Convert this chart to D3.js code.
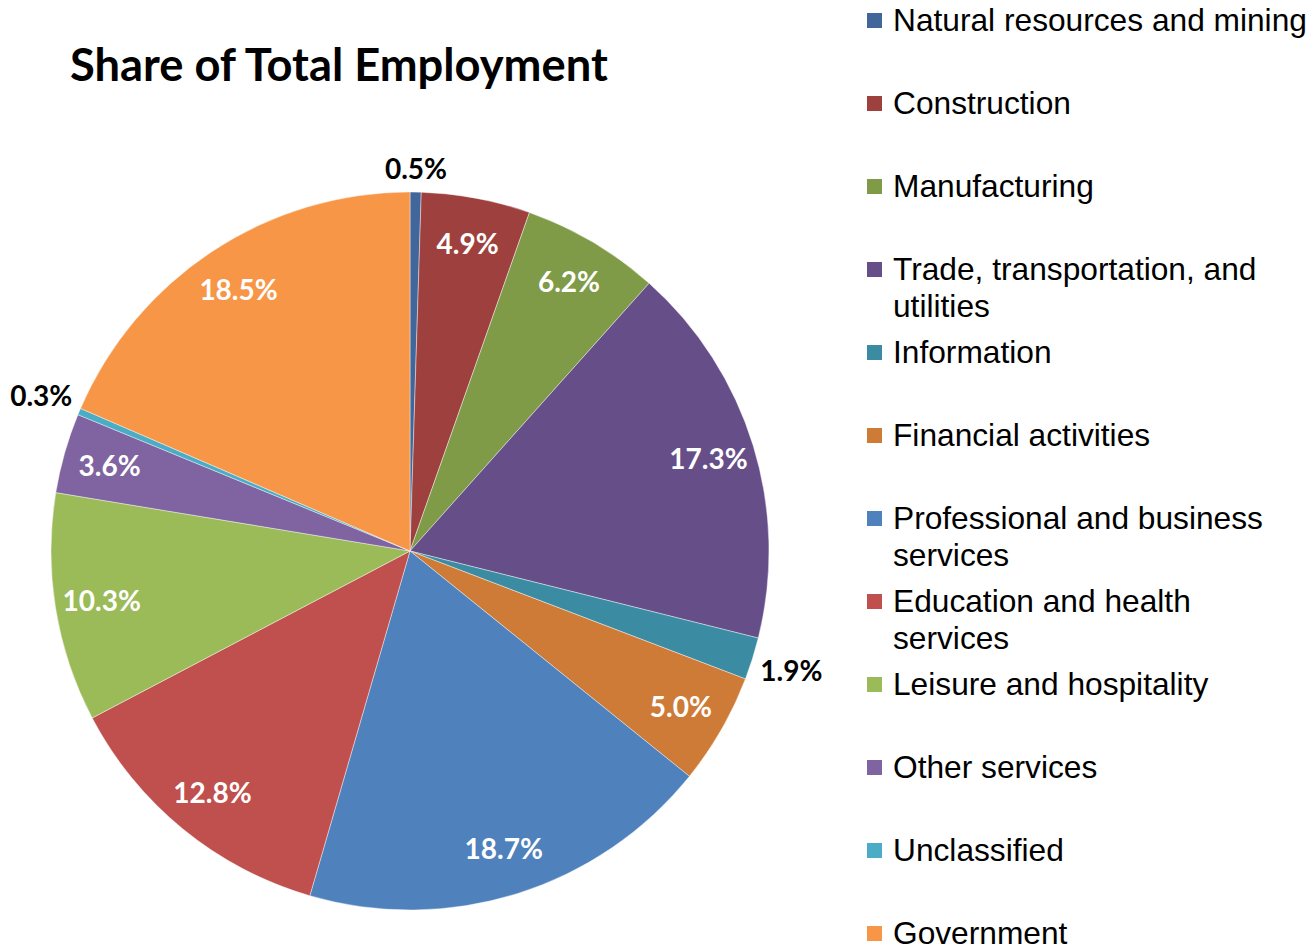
<!DOCTYPE html>
<html><head><meta charset="utf-8">
<script src="https://cdn.jsdelivr.net/npm/d3@7/dist/d3.min.js"></script>
<style>body{margin:0;background:#fff;overflow:hidden}</style>
</head><body>
<svg id="chart" width="1314" height="945"></svg>
<script>
const categories = ["Natural resources and mining","Construction","Manufacturing","Trade, transportation, and utilities","Information","Financial activities","Professional and business services","Education and health services","Leisure and hospitality","Other services","Unclassified","Government"];
const shares = [0.5,4.9,6.2,17.3,1.9,5.0,18.7,12.8,10.3,3.6,0.3,18.5];
const colors = ["#41679A","#9E403E","#7F9B48","#664E88","#3B8CA3","#CF7B38","#4F81BD","#C0504D","#9BBB59","#8064A2","#4BACC6","#F79646"];
const title = "Share of Total Employment";

const svg = d3.select("#chart");
const cx = 410, cy = 551, R = 359;

// Title
const t = svg.append("text").attr("x",70).attr("y",81)
  .style("font-family","Lato, 'Open Sans', sans-serif").style("font-weight","bold")
  .style("font-size","44px").attr("fill","#000").text(title);
const tw = t.node().getComputedTextLength();
t.style("font-size",(44*538/tw)+"px");

const pie = d3.pie().sort(null).value(d=>d)(shares);
const arc = d3.arc().innerRadius(0).outerRadius(R);
const g = svg.append("g").attr("transform",`translate(${cx},${cy})`);
g.selectAll("path").data(pie).join("path")
  .attr("d",arc).attr("fill",(d,i)=>colors[i])
  .attr("stroke","#fff").attr("stroke-width",0.6).attr("stroke-opacity",0.7);

// Labels
const fmt = d3.format(".1f");
pie.forEach((d,i)=>{
  const a = (d.startAngle+d.endAngle)/2;
  const inside = d.value >= 2;
  const lbl = g.append("text")
    .style("font-family","Lato, 'Open Sans', sans-serif").style("font-weight","bold")
    .style("font-size","28px").attr("text-anchor","middle").attr("dy","0.36em")
    .attr("fill", inside ? "#fff" : "#000").text(fmt(d.value)+"%");
  let r;
  if (inside) r = R*0.87;
  else {
    const bb = lbl.node().getBBox();
    r = R + Math.abs(Math.sin(a))*bb.width/2 + Math.abs(Math.cos(a))*bb.height/2 + 6;
  }
  lbl.attr("x", Math.sin(a)*r).attr("y", -Math.cos(a)*r);
});

// Legend
const lx = 867, ly = 20, step = 83, lineH = 37, maxW = 418;
const leg = svg.append("g");
categories.forEach((c,i)=>{
  const y = ly + i*step;
  leg.append("rect").attr("x",lx).attr("y",y-7).attr("width",15).attr("height",15).attr("fill",colors[i]);
  const txt = leg.append("text").attr("x",lx+26).attr("y",y+11)
    .style("font-family","'Liberation Sans', Arial, sans-serif").style("font-size","31.7px").attr("fill","#000");
  const words = c.split(" ");
  let line = [], ts = txt.append("tspan").attr("x",lx+26).attr("dy",0);
  words.forEach(w=>{
    line.push(w); ts.text(line.join(" "));
    if (ts.node().getComputedTextLength() > maxW && line.length>1) {
      line.pop(); ts.text(line.join(" "));
      line=[w];
      ts = txt.append("tspan").attr("x",lx+26).attr("dy",lineH).text(w);
    }
  });
});
</script>
</body></html>
